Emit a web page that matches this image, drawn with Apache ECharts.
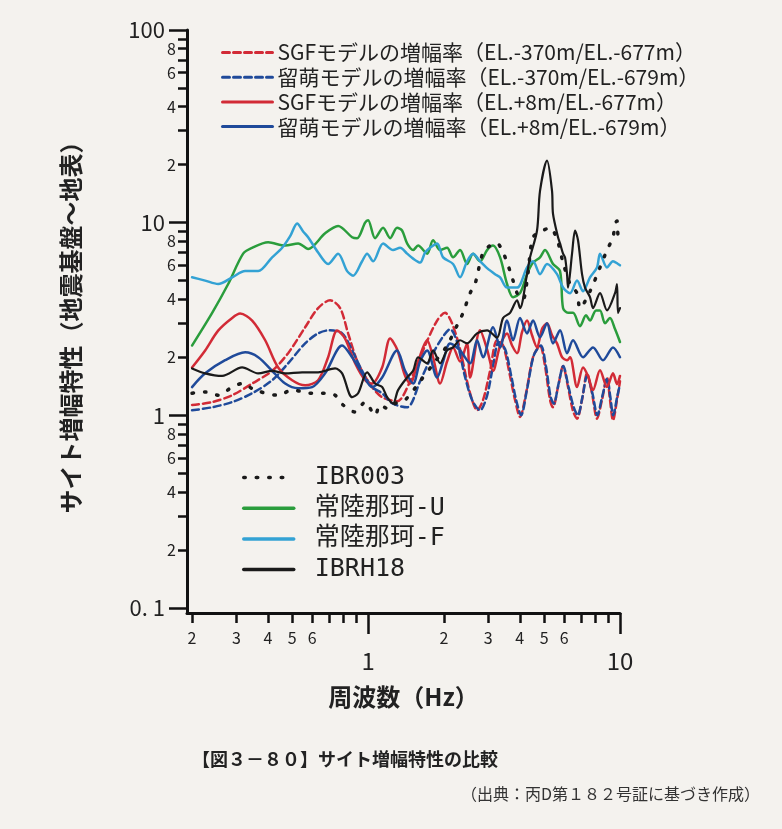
<!DOCTYPE html>
<html>
<head>
<meta charset="utf-8">
<script src="https://cdn.jsdelivr.net/npm/echarts@6/dist/echarts.min.js"></script>
<style>
html, body { margin: 0; padding: 0; background: #f4f2ee; }
#chart { width: 782px; height: 829px; }
</style>
</head>
<body>
<div id="chart"></div>
<script>
// 目盛り
const xMajorTicks = [1, 10]
const xMinorTicks = [0.2, 0.3, 0.4, 0.5, 0.6, 0.7, 0.8, 0.9, 2, 3, 4, 5, 6, 7, 8, 9]
const xMinorLabels = [0.2, 0.3, 0.4, 0.5, 0.6, 2, 3, 4, 5, 6]
const yMajorTicks = [0.1, 1, 10, 100]
const yMinorTicks = [0.2, 0.3, 0.4, 0.5, 0.6, 0.7, 0.8, 0.9, 2, 3, 4, 5, 6, 7, 8, 9, 20, 30, 40, 50, 60, 70, 80, 90]
const yMinorLabels = [0.2, 0.4, 0.6, 0.8, 2, 4, 6, 8, 20, 40, 60, 80]

// [周波数 Hz, 増幅率]
const sgfDeep = [[0.20,1.13],[0.2404,1.17],[0.2887,1.27],[0.3465,1.46],[0.4159,1.7],[0.4815,2.1],[0.5623,2.86],[0.6333,3.6],[0.7067,3.95],[0.7743,3.6],[0.833,2.66],[0.9128,1.86],[1.037,1.4],[1.137,1.24],[1.303,1.18],[1.468,1.5],[1.684,2.3],[1.879,3.1],[2.021,3.4],[2.154,3.0],[2.318,2.2],[2.471,1.5],[2.587,1.2],[2.707,1.06],[2.86,1.2],[3.049,1.7],[3.25,2.45],[3.434,2.3],[3.66,1.6],[3.831,1.2],[4.01,0.98],[4.236,1.3],[4.516,2.0],[4.814,2.3],[5.039,1.8],[5.275,1.2],[5.421,1.1],[5.675,1.4],[5.941,1.8],[6.219,1.4],[6.51,1.05],[6.753,0.96],[7.067,1.2],[7.396,1.65],[7.743,1.3],[8.104,0.96],[8.483,1.2],[8.88,1.57],[9.127,1.2],[9.38,0.94],[9.73,1.2],[10,1.5]]
const rumoiDeep = [[0.20,1.06],[0.2404,1.1],[0.2887,1.17],[0.3465,1.3],[0.4159,1.52],[0.4815,1.86],[0.5623,2.36],[0.6333,2.66],[0.70,2.76],[0.7886,2.66],[0.8641,2.17],[0.9467,1.7],[1.037,1.4],[1.137,1.3],[1.25,1.15],[1.428,1.1],[1.608,1.5],[1.811,2.1],[2.0,2.6],[2.115,2.8],[2.255,2.4],[2.42,1.6],[2.587,1.2],[2.783,1.06],[2.96,1.25],[3.134,1.8],[3.3,2.4],[3.5,2.2],[3.7,1.6],[3.87,1.2],[4.05,1.0],[4.27,1.35],[4.55,2.05],[4.85,2.3],[5.08,1.8],[5.3,1.25],[5.46,1.15],[5.7,1.45],[5.95,1.8],[6.25,1.4],[6.55,1.1],[6.8,1.0],[7.1,1.25],[7.4,1.6],[7.77,1.3],[8.13,1.0],[8.5,1.25],[8.9,1.55],[9.15,1.25],[9.4,1.0],[9.75,1.25],[10,1.45]]
const sgfSurf = [[0.20,1.77],[0.2255,2.17],[0.2539,2.75],[0.2887,3.2],[0.3105,3.37],[0.3465,3.1],[0.3903,2.45],[0.4394,1.77],[0.4994,1.52],[0.5623,1.43],[0.6333,1.52],[0.6939,2.0],[0.7533,2.75],[0.8101,2.5],[0.888,1.86],[0.973,1.52],[1.037,1.46],[1.137,1.77],[1.223,2.5],[1.303,2.2],[1.402,1.6],[1.468,1.46],[1.579,1.9],[1.715,2.45],[1.811,2.0],[1.931,1.46],[2.058,1.9],[2.174,2.25],[2.318,1.9],[2.471,2.36],[2.54,1.57],[2.783,2.76],[2.967,2.2],[3.134,1.7],[3.342,2.3],[3.561,2.66],[3.728,2.3],[3.902,2.1],[4.084,2.7],[4.275,3.1],[4.475,2.6],[4.684,2.25],[4.903,2.8],[5.132,3.0],[5.372,2.6],[5.623,2.36],[5.887,2.0],[6.162,1.93],[6.334,2.0],[6.753,1.4],[7.132,1.77],[7.464,1.6],[7.814,1.35],[8.33,1.71],[8.88,1.4],[9.38,1.65],[9.73,1.45],[10,1.6]]
const rumoiSurf = [[0.20,1.4],[0.2255,1.65],[0.2707,1.93],[0.325,2.12],[0.3661,2.0],[0.4159,1.7],[0.4685,1.46],[0.5276,1.38],[0.5995,1.4],[0.6752,1.65],[0.7886,2.3],[0.8641,2.0],[0.9467,1.65],[1.037,1.4],[1.137,1.57],[1.303,2.17],[1.402,1.7],[1.509,1.46],[1.608,1.9],[1.715,2.17],[1.879,1.57],[1.985,1.9],[2.115,2.36],[2.318,2.17],[2.54,1.86],[2.707,2.45],[2.86,2.0],[3.134,2.86],[3.342,2.25],[3.561,3.1],[3.762,2.45],[4.01,3.2],[4.275,2.66],[4.516,3.1],[4.814,2.54],[5.132,3.0],[5.421,2.36],[5.78,2.76],[6.162,2.1],[6.51,2.45],[7.132,2.0],[7.814,2.25],[8.561,1.93],[9.38,2.25],[10,2.0]]
const nakaU = [[0.20,2.3],[0.2404,3.4],[0.2783,4.8],[0.3191,6.9],[0.3465,7.4],[0.4011,7.9],[0.4685,7.6],[0.5276,7.8],[0.5779,7.3],[0.6752,8.8],[0.7603,9.6],[0.8641,8.4],[0.9044,8.3],[0.973,10.0],[1.0,10.3],[1.066,8.3],[1.147,9.4],[1.223,8.3],[1.303,9.4],[1.364,9.1],[1.428,7.8],[1.509,7.2],[1.579,7.6],[1.715,6.9],[1.811,8.1],[1.931,7.2],[2.058,7.4],[2.174,6.6],[2.318,7.2],[2.471,6.1],[2.61,6.9],[2.783,6.3],[2.967,7.2],[3.134,7.6],[3.342,6.6],[3.561,4.8],[3.762,4.1],[4.01,4.3],[4.275,5.4],[4.516,6.2],[4.814,6.6],[5.039,7.2],[5.421,6.1],[5.78,5.6],[5.941,3.6],[6.219,3.4],[6.51,3.4],[6.939,2.9],[7.33,3.3],[7.602,3.1],[8.031,3.5],[8.33,3.5],[8.719,3.0],[9.127,3.2],[9.554,2.8],[10,2.4]]
const nakaF = [[0.20,5.2],[0.2255,5.0],[0.2539,4.8],[0.2887,5.2],[0.325,5.6],[0.3661,5.6],[0.4159,6.6],[0.4558,7.4],[0.4904,8.5],[0.5228,9.9],[0.5521,9.0],[0.5779,8.4],[0.6333,7.0],[0.6939,6.1],[0.7603,6.9],[0.8254,5.6],[0.872,5.3],[0.9467,6.3],[0.9909,6.9],[1.047,6.3],[1.147,7.8],[1.256,7.2],[1.34,7.4],[1.428,6.9],[1.509,6.5],[1.608,6.2],[1.684,7.0],[1.762,7.4],[1.879,7.8],[1.985,6.6],[2.174,6.1],[2.318,5.2],[2.471,6.3],[2.61,6.9],[2.783,6.3],[2.967,5.8],[3.191,5.4],[3.342,5.2],[3.561,4.6],[3.902,4.6],[4.275,5.85],[4.516,6.3],[4.814,5.4],[5.132,6.1],[5.623,5.4],[5.941,4.6],[6.334,4.3],[6.753,5.0],[7.132,4.4],[7.602,5.2],[8.104,5.85],[8.33,6.9],[8.88,5.85],[9.38,6.3],[9.819,6.1],[10,6.0]]
const ibrh18 = [[0.20,1.75],[0.2255,1.65],[0.2634,1.6],[0.3162,1.77],[0.3661,1.65],[0.4159,1.7],[0.4685,1.65],[0.5471,1.67],[0.6333,1.67],[0.7396,1.75],[0.7886,1.65],[0.8641,1.24],[0.9128,1.3],[0.9909,1.67],[1.066,1.46],[1.137,1.4],[1.19,1.24],[1.256,1.15],[1.315,1.35],[1.428,1.57],[1.509,1.7],[1.579,2.0],[1.715,1.86],[1.811,2.17],[1.931,1.86],[2.058,2.17],[2.174,2.25],[2.318,2.45],[2.471,2.36],[2.707,2.66],[2.967,2.76],[3.25,2.53],[3.434,3.2],[3.66,3.4],[3.902,3.95],[4.01,3.6],[4.275,5.4],[4.394,6.6],[4.684,9.1],[4.814,14.6],[5.132,21],[5.372,14.6],[5.421,11.1],[5.675,8.4],[5.78,7.8],[5.941,6.9],[6.05,6.6],[6.162,5.4],[6.219,4.6],[6.451,6.9],[6.631,9.1],[6.813,8.1],[7.067,5.4],[7.264,4.6],[7.602,4.1],[7.814,3.6],[8.33,4.3],[8.88,3.5],[9.554,4.3],[9.73,4.8],[9.819,3.4],[10,3.6]]
const ibr003 = [[0.20,1.30],[0.2255,1.32],[0.2539,1.27],[0.2887,1.40],[0.3162,1.46],[0.3561,1.35],[0.4394,1.27],[0.4994,1.35],[0.5995,1.30],[0.6752,1.30],[0.7396,1.27],[0.7959,1.13],[0.888,1.04],[0.973,1.17],[1.066,1.0],[1.116,1.13],[1.2,1.08],[1.28,1.15],[1.402,1.2],[1.608,1.5],[1.845,1.9],[2.058,2.3],[2.276,3.0],[2.382,3.4],[2.54,4.3],[2.658,4.8],[2.86,7.0],[3.049,7.6],[3.25,7.8],[3.434,7.0],[3.561,6.2],[3.66,5.6],[3.762,5.0],[3.938,4.2],[4.121,4.0],[4.314,5.5],[4.516,8.4],[4.947,9.1],[5.275,9.4],[5.623,8.2],[5.941,6.2],[6.334,4.8],[6.753,4.3],[6.939,3.6],[7.6,4.4],[8.33,5.85],[8.88,7.2],[9.38,8.4],[9.554,9.9],[9.73,10.2],[9.819,8.6],[10,7.8]]

const RED = '#d22b36'
const BLUE = '#1f4a9a'
const GREEN = '#2a9d3c'
const CYAN = '#33a2d4'
const BLACK = '#1a1a1a'

const topNames = [
  'SGFモデルの増幅率（EL.-370m/EL.-677m）',
  '留萌モデルの増幅率（EL.-370m/EL.-679m）',
  'SGFモデルの増幅率（EL.+8m/EL.-677m）',
  '留萌モデルの増幅率（EL.+8m/EL.-679m）'
]
const bottomNames = ['IBR003', '常陸那珂-U', '常陸那珂-F', 'IBRH18']

function line (name, data, color, type, width) {
  return {
    name: name,
    type: 'line',
    data: data,
    symbol: 'none',
    smooth: 0.3,
    lineStyle: { color: color, width: width, type: type, cap: 'round' },
    itemStyle: { color: color }
  }
}

// 先頭の数字だけ表示
function lead (v) {
  const p = Math.pow(10, Math.floor(Math.log10(v) + 1e-9))
  return String(Math.round(v / p))
}

const tickColor = '#111'
const font = '"Noto Sans CJK JP", "Noto Sans", sans-serif'

const myChart = echarts.init(document.getElementById('chart'))
myChart.setOption({
  animation: false,
  backgroundColor: '#f4f2ee',
  textStyle: { fontFamily: font },
  grid: { left: 187, right: 162, top: 30, bottom: 216 },
  legend: [
    {
      data: topNames,
      orient: 'vertical',
      left: 216,
      top: 37,
      itemWidth: 50,
      itemHeight: 14,
      itemGap: 3.7,
      selectedMode: false,
      itemStyle: { opacity: 0 }, // 丸を消す
      lineStyle: { width: 3 },
      textStyle: { fontSize: 21, lineHeight: 21, color: '#222', fontFamily: font }
    },
    {
      data: bottomNames,
      orient: 'vertical',
      left: 237,
      top: 460,
      itemWidth: 50,
      itemHeight: 14,
      itemGap: 5.7,
      selectedMode: false,
      itemStyle: { opacity: 0 },
      lineStyle: { width: 3.5 },
      textStyle: { fontSize: 25, lineHeight: 25, color: '#222', padding: [0, 0, 0, 16], fontFamily: '"DejaVu Sans Mono", "Noto Sans CJK JP", monospace' }
    }
  ],
  xAxis: [
    {
      type: 'log',
      position: 'bottom',
      min: 0.191,
      max: 10,
      name: '周波数（Hz）',
      nameLocation: 'middle',
      nameGap: 72,
      nameTextStyle: { fontSize: 24, fontWeight: 'bold', color: '#222', fontFamily: font },
      axisLine: { onZero: false, lineStyle: { color: tickColor, width: 3 } },
      axisTick: { customValues: xMajorTicks, length: 21, lineStyle: { color: tickColor, width: 2.5 } },
      axisLabel: { customValues: xMajorTicks, margin: 36, fontSize: 24, color: '#222', fontFamily: font },
      splitLine: { show: false }
    },
    {
      type: 'log',
      position: 'bottom',
      min: 0.191,
      max: 10,
      axisLine: { show: false, onZero: false },
      axisTick: { customValues: xMinorTicks, length: 10, lineStyle: { color: tickColor, width: 2.5 } },
      axisLabel: { customValues: xMinorLabels, margin: 17, fontSize: 16, color: '#222', formatter: lead, fontFamily: font },
      splitLine: { show: false }
    }
  ],
  yAxis: [
    {
      type: 'log',
      position: 'left',
      min: 0.094,
      max: 100,
      name: 'サイト増幅特性（地震基盤～地表）',
      nameLocation: 'middle',
      nameGap: 104,
      nameTextStyle: { fontSize: 24, fontWeight: 'bold', color: '#222', fontFamily: font },
      axisLine: { onZero: false, lineStyle: { color: tickColor, width: 3 } },
      axisTick: { customValues: yMajorTicks, length: 18, lineStyle: { color: tickColor, width: 2.5 } },
      axisLabel: {
        customValues: yMajorTicks,
        margin: 22,
        fontSize: 22,
        color: '#222',
        fontFamily: font,
        formatter: v => (v < 0.5 ? '0. 1' : String(v))
      },
      splitLine: { show: false }
    },
    {
      type: 'log',
      position: 'left',
      min: 0.094,
      max: 100,
      axisLine: { show: false, onZero: false },
      axisTick: { customValues: yMinorTicks, length: 9, lineStyle: { color: tickColor, width: 2.5 } },
      axisLabel: { customValues: yMinorLabels, margin: 11, fontSize: 16, color: '#222', formatter: lead, fontFamily: font },
      splitLine: { show: false }
    }
  ],
  series: [
    line(topNames[0], sgfDeep, RED, [7, 4], 2.5),
    line(topNames[1], rumoiDeep, BLUE, [7, 4], 2.5),
    line(topNames[2], sgfSurf, RED, 'solid', 2.5),
    line(topNames[3], rumoiSurf, BLUE, 'solid', 2.5),
    line(bottomNames[1], nakaU, GREEN, 'solid', 2.5),
    line(bottomNames[2], nakaF, CYAN, 'solid', 2.5),
    line(bottomNames[3], ibrh18, BLACK, 'solid', 2.2),
    line(bottomNames[0], ibr003, BLACK, [1.5, 11], 3.5)
  ],
  graphic: [
    {
      type: 'text',
      left: 192,
      top: 750,
      style: { text: '【図３－８０】サイト増幅特性の比較', font: 'bold 18px "Noto Sans CJK JP"', fill: '#222' }
    },
    {
      type: 'text',
      right: 22,
      top: 786,
      style: { text: '（出典：丙D第１８２号証に基づき作成）', font: '16px "Noto Sans CJK JP"', fill: '#333' }
    }
  ]
})
</script>
</body>
</html>
